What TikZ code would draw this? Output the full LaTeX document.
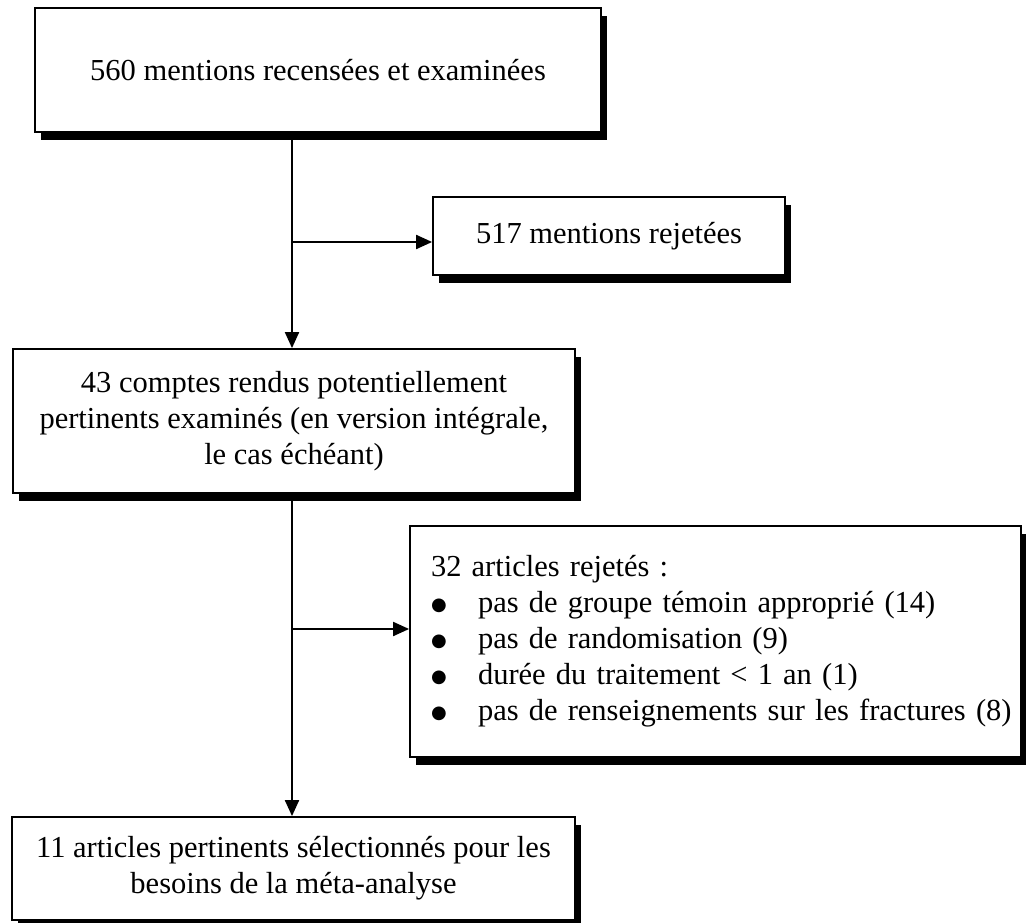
\documentclass[tikz,border=0pt]{standalone}
\usepackage{fontspec}
\setmainfont{Liberation Serif}
\newfontfamily\dejavufont{DejaVu Sans}
\usetikzlibrary{arrows.meta,shadows}
\newcommand{\bulitem}[1]{\mbox{\makebox[47pt][l]{\raisebox{2pt}{\fontsize{18}{18}\dejavufont ●}}#1}}
\tikzset{
  box/.style={draw=black, line width=1.8pt, fill=white, inner sep=0pt, align=center,
    general shadow={fill=black, shadow xshift=6pt, shadow yshift=-8pt},
    font=\fontsize{30.5}{36}\selectfont},
  arr/.style={line width=2pt, -{Triangle[length=16pt,width=14pt]}}
}
\begin{document}
\begin{tikzpicture}[x=1pt,y=-1pt]
\useasboundingbox[fill=white] (0,0) rectangle (1026,923);
\node[box, minimum width=566pt, minimum height=124pt] (b1) at (318,70) {560 mentions recensées et examinées};
\node[box, minimum width=352pt, minimum height=78pt] (b517) at (609,236) {517 mentions rejetées};
\node[box, minimum width=562pt, minimum height=144pt] (b2) at (294,421) {43 comptes rendus potentiellement\\pertinents examinés (en version intégrale,\\le cas échéant)};
\node[box, text width=569pt, inner xsep=21pt, minimum height=231pt, align=left] (b32) at (715.5,641.5) {\mbox{32 articles rejetés :}\\
\bulitem{pas de groupe témoin approprié (14)}\\
\bulitem{pas de randomisation (9)}\\
\bulitem{durée du traitement < 1 an (1)}\\
\bulitem{pas de renseignements sur les fractures (8)}};
\node[box, minimum width=563pt, minimum height=103pt] (b5) at (293.5,868.5) {11 articles pertinents sélectionnés pour les\\besoins de la méta-analyse};
\coordinate (j1) at (292,242);
\coordinate (j2) at (292,629);
\draw[arr] (b1.south -| j1) -- (b2.north -| j1);
\draw[arr] (j1) -- (b517.west |- j1);
\draw[arr] (b2.south -| j2) -- (b5.north -| j2);
\draw[arr] (j2) -- (b32.west |- j2);
\end{tikzpicture}
\end{document}
